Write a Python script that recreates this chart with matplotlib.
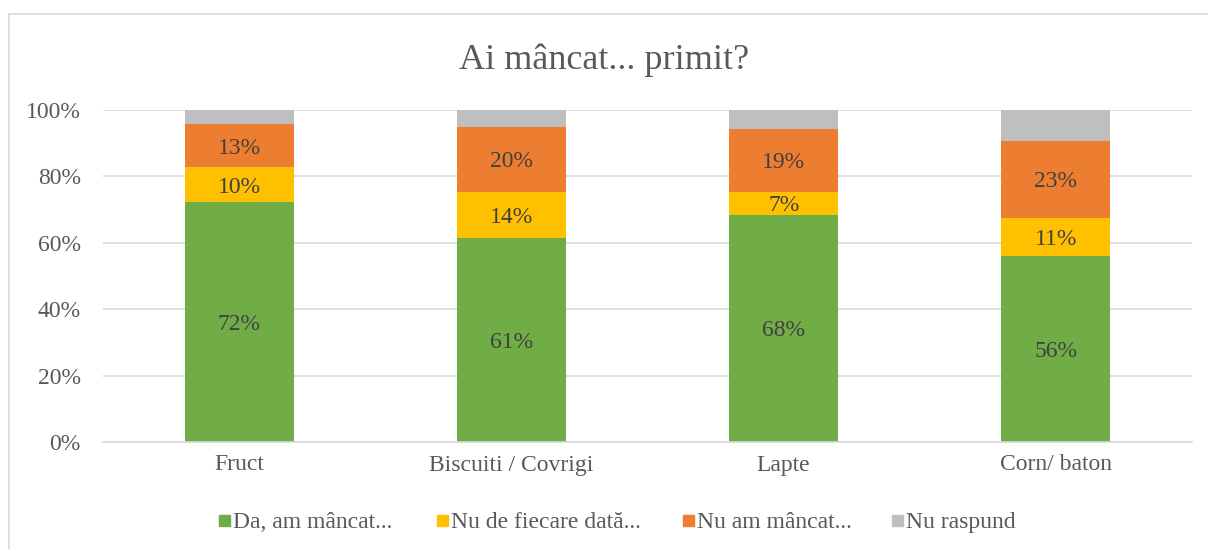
import matplotlib.pyplot as plt
from matplotlib.patches import Rectangle

plt.rcParams['font.family'] = ['Liberation Serif', 'DejaVu Serif']

categories = ["Fruct", "Biscuiti / Covrigi", "Lapte", "Corn/ baton"]
series = ["Da, am mâncat...", "Nu de fiecare dată...", "Nu am mâncat...", "Nu raspund"]
da = [72.3, 61.4, 68.4, 56.0]
nu_fiecare = [10.5, 13.9, 6.9, 11.5]
nu_am = [13.0, 19.6, 19.0, 23.2]
nu_raspund = [4.2, 5.1, 5.7, 9.3]
labels = [["72%", "61%", "68%", "56%"],
          ["10%", "14%", "7%", "11%"],
          ["13%", "20%", "19%", "23%"]]
colors = ["#70ad47", "#ffc000", "#ed7d31", "#bfbfbf"]
text_col = "#595959"

W, H = 1208, 549
fig = plt.figure(figsize=(W / 100, H / 100), dpi=100)
# chart frame (only top and left edges are inside the picture)
fig.patches.append(Rectangle((9 / W, -0.05), 1.2, 1 - 14 / H + 0.05,
                             transform=fig.transFigure, fill=False,
                             edgecolor="#d9d9d9", linewidth=1.2))
ax = fig.add_axes([103 / W, 1 - 442 / H, 1089 / W, 332 / H])

x = range(len(categories))
bottom = [0, 0, 0, 0]
for vals, col in zip([da, nu_fiecare, nu_am, nu_raspund], colors):
    ax.bar(x, vals, 0.4, bottom=bottom, color=col, zorder=2)
    bottom = [b + v for b, v in zip(bottom, vals)]

bottom = [0, 0, 0, 0]
for vals, labs in zip([da, nu_fiecare, nu_am], labels):
    for i, (v, l) in enumerate(zip(vals, labs)):
        ax.text(i, bottom[i] + v / 2, l, ha="center", va="center_baseline",
                fontsize=17, color="#404040")
    bottom = [b + v for b, v in zip(bottom, vals)]

ax.set_xlim(-0.5, 3.5)
ax.set_ylim(0, 100)
ax.set_yticks([0, 20, 40, 60, 80, 100])
ax.set_yticklabels(["0%", "20%", "40%", "60%", "80%", "100%"])
ax.set_xticks(list(x))
ax.set_xticklabels(categories)
ax.tick_params(length=0, labelsize=17, labelcolor=text_col)
ax.tick_params(axis="y", pad=16)
ax.tick_params(axis="x", pad=9)
ax.grid(axis="y", color="#d9d9d9", linewidth=1.2, zorder=0)
for s in ["top", "right", "left"]:
    ax.spines[s].set_visible(False)
ax.spines["bottom"].set_color("#d9d9d9")
ax.spines["bottom"].set_linewidth(1.2)

fig.text(0.5, 1 - 60 / H, "Ai mâncat... primit?", ha="center", va="center",
         fontsize=26, color=text_col)

# legend, drawn by hand so all entries share one baseline
leg_x = [219, 437, 683, 892]
base_y = 1 - 528 / H
for lx, col, name in zip(leg_x, colors, series):
    fig.patches.append(Rectangle((lx / W, 1 - 526 / H), 11 / W, 11 / H,
                                 transform=fig.transFigure, color=col))
    fig.text((lx + 14) / W, base_y, name, ha="left", va="baseline",
             fontsize=17, color=text_col)

fig.savefig("out.png", dpi=100)
